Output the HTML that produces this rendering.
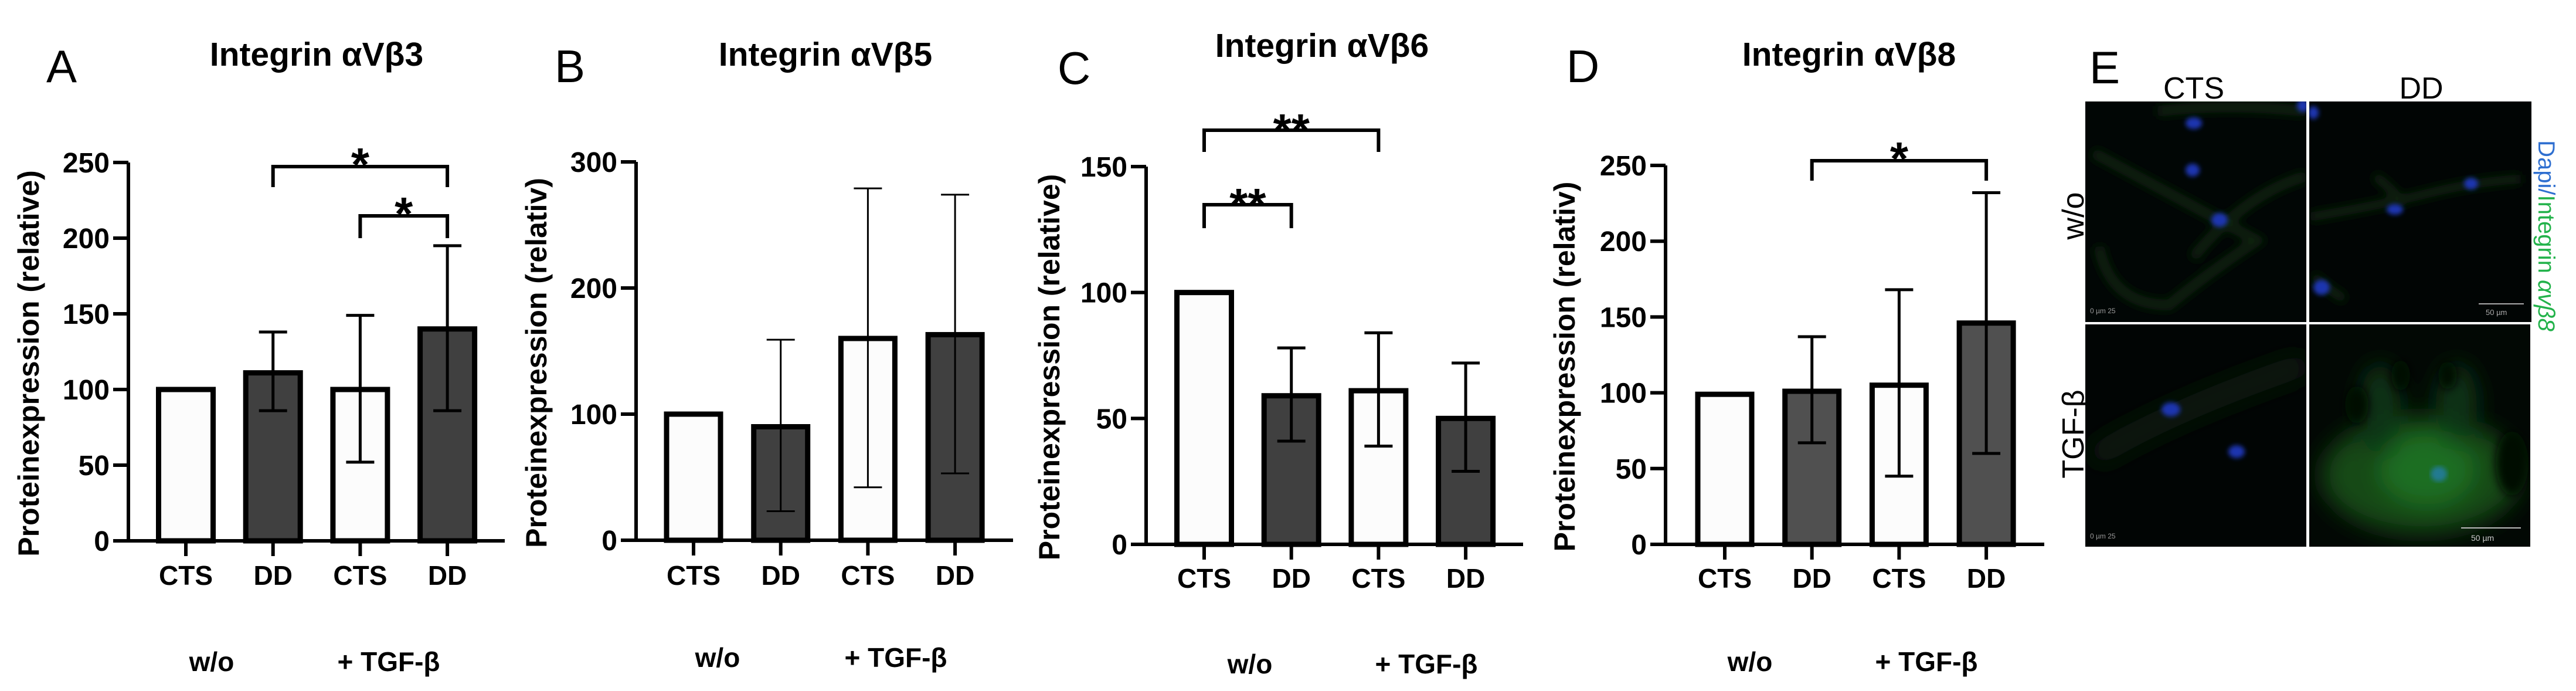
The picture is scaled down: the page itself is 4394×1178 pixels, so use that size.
<!DOCTYPE html>
<html><head><meta charset="utf-8"><style>
html,body{margin:0;padding:0;background:#fff;}
svg{display:block;font-family:"Liberation Sans",Arial,sans-serif;}
</style></head><body>
<svg id="fig" width="4394" height="1178" viewBox="0 0 4394 1178" xmlns="http://www.w3.org/2000/svg">
<defs>
<filter id="blur8"><feGaussianBlur stdDeviation="8"/></filter>
<filter id="blur4"><feGaussianBlur stdDeviation="4"/></filter>
<filter id="blur20" x="-50%" y="-50%" width="200%" height="200%"><feGaussianBlur stdDeviation="20"/></filter>
<clipPath id="c1"><rect x="3557" y="173" width="377" height="376"/></clipPath>
<clipPath id="c2"><rect x="3939" y="173" width="379" height="376"/></clipPath>
<clipPath id="c3"><rect x="3557" y="553" width="377" height="379"/></clipPath>
<clipPath id="c4"><rect x="3939" y="553" width="377" height="379"/></clipPath>
</defs>
<g id="charts"></g>
<g id="panelE">
  <text x="3564" y="142" font-size="78">E</text>
  <text x="3742" y="168" font-size="52" text-anchor="middle">CTS</text>
  <text x="4130" y="168" font-size="52" text-anchor="middle">DD</text>
  <text transform="translate(3554,368) rotate(-90)" font-size="52" text-anchor="middle">w/o</text>
  <text transform="translate(3554,740) rotate(-90)" font-size="52" text-anchor="middle">TGF-β</text>
  <text transform="translate(4330,402) rotate(90)" font-size="40" text-anchor="middle"><tspan fill="#2f6fd0">Dapi/</tspan><tspan fill="#22b24a">Integrin </tspan><tspan fill="#22b24a" font-style="italic">αvβ8</tspan></text>
  <g clip-path="url(#c1)">
    <rect x="3557" y="173" width="377" height="376" fill="#010605"/>
    <g filter="url(#blur8)" fill="none" stroke="#0a2410" stroke-width="18">
      <path d="M3570 260 Q3700 330 3850 410 Q3760 470 3700 520 Q3600 520 3580 420"/>
      <path d="M3680 190 Q3800 175 3934 190"/>
      <path d="M3740 440 Q3830 330 3934 300"/>
    </g>
    <g filter="url(#blur4)" fill="#1a34b0">
      <ellipse cx="3742" cy="210" rx="14" ry="10"/><ellipse cx="3740" cy="290" rx="12" ry="11"/><ellipse cx="3786" cy="375" rx="14" ry="12"/><ellipse cx="3928" cy="180" rx="10" ry="11"/>
    </g>
    <text x="3565" y="534" font-size="12" fill="#999">0 µm 25</text>
  </g>
  <g clip-path="url(#c2)">
    <rect x="3939" y="173" width="379" height="376" fill="#010504"/>
    <g filter="url(#blur8)" fill="none" stroke="#09220f" stroke-width="16">
      <path d="M3940 370 Q4060 350 4140 330 Q4220 310 4300 305"/>
      <path d="M4050 300 Q4080 320 4100 350"/>
      <path d="M3945 470 Q3980 500 4000 510"/>
    </g>
    <g filter="url(#blur4)" fill="#1a34b0">
      <ellipse cx="4215" cy="313" rx="12" ry="10"/><ellipse cx="4085" cy="357" rx="14" ry="9"/><ellipse cx="3960" cy="490" rx="14" ry="13"/><ellipse cx="3946" cy="192" rx="9" ry="11"/>
    </g>
    <line x1="4228" y1="518" x2="4305" y2="518" stroke="#aaa" stroke-width="2"/>
    <text x="4240" y="537" font-size="13" fill="#aaa">50 µm</text>
  </g>
  <g clip-path="url(#c3)">
    <rect x="3557" y="553" width="377" height="379" fill="#010504"/>
    <g filter="url(#blur20)" fill="none" stroke="#071c0c" stroke-width="40">
      <path d="M3570 780 Q3700 700 3934 620"/>
    </g>
    <g filter="url(#blur4)" fill="#1a34b0">
      <ellipse cx="3703" cy="698" rx="16" ry="12"/><ellipse cx="3815" cy="770" rx="14" ry="11"/>
    </g>
    <text x="3565" y="918" font-size="12" fill="#999">0 µm 25</text>
  </g>
  <g clip-path="url(#c4)">
    <rect x="3939" y="553" width="377" height="379" fill="#020804"/>
    <g filter="url(#blur20)">
      <ellipse cx="4130" cy="810" rx="170" ry="100" fill="#144a18"/>
      <ellipse cx="4140" cy="800" rx="80" ry="60" fill="#1f6e24"/>
      <ellipse cx="4060" cy="700" rx="35" ry="80" fill="#0d3512"/>
      <ellipse cx="4190" cy="690" rx="35" ry="70" fill="#0d3512"/>
    </g>
    <g filter="url(#blur8)" fill="#020804">
      <ellipse cx="4020" cy="690" rx="20" ry="32"/><ellipse cx="4095" cy="640" rx="16" ry="26"/><ellipse cx="4175" cy="640" rx="16" ry="24"/><ellipse cx="4285" cy="790" rx="28" ry="55"/>
    </g>
    <ellipse cx="4160" cy="808" rx="14" ry="13" fill="#247a90" filter="url(#blur4)"/>
    <line x1="4198" y1="900" x2="4300" y2="900" stroke="#bbb" stroke-width="2"/>
    <text x="4215" y="922" font-size="14" fill="#ccc">50 µm</text>
  </g>
  <line x1="3935.5" y1="173" x2="3935.5" y2="932" stroke="#fff" stroke-width="3"/>
</g>
</svg>
<script>
// ----- data -----
const categories = ["CTS","DD","CTS","DD"];
const groupLabels = ["w/o","+ TGF-β"];
const valuesA = [100, 111, 100, 140];
const errHiA = [100, 138, 149, 195];
const errLoA = [100, 86, 52, 86];
const ticksA = [0, 50, 100, 150, 200, 250];
const valuesB = [100, 90, 160, 163];
const errHiB = [100, 159, 279, 274];
const errLoB = [100, 23, 42, 53];
const ticksB = [0, 100, 200, 300];
const valuesC = [100, 59, 61, 50];
const errHiC = [100, 78, 84, 72];
const errLoC = [100, 41, 39, 29];
const ticksC = [0, 50, 100, 150];
const valuesD = [99, 101, 105, 146];
const errHiD = [99, 137, 168, 232];
const errLoD = [99, 67, 45, 60];
const ticksD = [0, 50, 100, 150, 200, 250];

const NS = "http://www.w3.org/2000/svg";
const root = document.getElementById("charts");
function mk(tag, attrs, parent){
  const e = document.createElementNS(NS, tag);
  for (const k in attrs) e.setAttribute(k, attrs[k]);
  (parent||root).appendChild(e); return e;
}

const panels = [
  {id:"a", letter:"A", lx:105, ly:140, title:"Integrin αVβ3", tx:540, ty:92, ylabel:"Proteinexpression (relative)", ylx:49,
   ax:219, x0:317, dx:148.7, bw:93, axEnd:861, y0:922, yTop:277, max:250,
   values:valuesA, hi:errHiA, lo:errLoA, ticks:ticksA, dark:"#404040", catY:980, grpY:1127, grpX:[361,663],
   brackets:[{a:1,b:3,y:284,leg:319,lab:"*",sy:268},{a:2,b:3,y:368,leg:406,lab:"*",sy:352}]},
  {id:"b", letter:"B", lx:972, ly:140, title:"Integrin αVβ5", tx:1408, ty:92, ylabel:"Proteinexpression (relativ)", ylx:915,
   ax:1085, x0:1183, dx:148.7, bw:92, axEnd:1728, y0:921, yTop:276, max:300,
   values:valuesB, hi:errHiB, lo:errLoB, ticks:ticksB, dark:"#404040", catY:980, grpY:1120, grpX:[1224,1528], brackets:[]},
  {id:"c", letter:"C", lx:1832, ly:143, title:"Integrin αVβ6", tx:2255, ty:77, ylabel:"Proteinexpression (relative)", ylx:1790,
   ax:1955, x0:2054, dx:148.7, bw:93, axEnd:2598, y0:928, yTop:284, max:150,
   values:valuesC, hi:errHiC, lo:errLoC, ticks:ticksC, dark:"#404040", catY:985, grpY:1131, grpX:[2132,2433],
   brackets:[{a:0,b:2,y:222,leg:259,lab:"**",sy:210},{a:0,b:1,y:349,leg:389,lab:"**",sy:337}]},
  {id:"d", letter:"D", lx:2700, ly:140, title:"Integrin αVβ8", tx:3154, ty:92, ylabel:"Proteinexpression (relativ)", ylx:2669,
   ax:2841, x0:2942, dx:148.7, bw:92, axEnd:3487, y0:928, yTop:282, max:250,
   values:valuesD, hi:errHiD, lo:errLoD, ticks:ticksD, dark:"#505050", catY:985, grpY:1127, grpX:[2985,3286],
   brackets:[{a:1,b:3,y:274,leg:308,lab:"*",sy:258}]}
];

panels.forEach(p => {
  const g = mk("g", {});
  
  
  const yS = v => p.y0 - (v / p.max) * (p.y0 - p.yTop);
  const xS = i => p.x0 + i * p.dx;

  const L = mk("text", {x:p.lx, y:p.ly, "font-size":78, "text-anchor":"middle"}, g); L.textContent = p.letter;
  
  
  const T = mk("text", {x:p.tx, y:p.ty + 20, "font-size":57, "font-weight":"bold", "text-anchor":"middle"}, g); T.textContent = p.title;
  
  
  const yl = mk("text", {transform:`translate(${p.ylx + 17},${(p.y0 + p.yTop)/2 + 20}) rotate(-90)`, "font-size":50, "font-weight":"bold", "text-anchor":"middle"}, g);
  yl.textContent = p.ylabel;
  
  

  p.values.forEach((v, i) => {
    const x = xS(i) - p.bw/2, y = yS(v);
    const r = mk("rect", {x:x, y:y, width:p.bw, height:p.y0 - y, fill: i % 2 ? p.dark : "#fcfcfc", stroke:"#000", "stroke-width":9}, g);
    
    
  });
  p.values.forEach((v, i) => {
    if (p.hi[i] === p.lo[i]) return;
    const x = xS(i), eg = mk("g", {stroke:"#000", "stroke-width": p.id === "b" ? 3 : 5}, g);
    
    
    mk("line", {x1:x, x2:x, y1:yS(p.hi[i]), y2:yS(p.lo[i])}, eg);
    mk("line", {x1:x-24, x2:x+24, y1:yS(p.hi[i]), y2:yS(p.hi[i])}, eg);
    mk("line", {x1:x-24, x2:x+24, y1:yS(p.lo[i]), y2:yS(p.lo[i])}, eg);
  });
  const ag = mk("g", {stroke:"#000", "stroke-width":6, fill:"none"}, g);
  
  
  mk("line", {x1:p.ax, x2:p.ax, y1:p.yTop, y2:p.y0 + 3}, ag);
  mk("line", {x1:p.ax - 26, x2:p.axEnd, y1:p.y0, y2:p.y0}, ag);
  p.ticks.forEach(t => {
    mk("line", {x1:p.ax - 26, x2:p.ax, y1:yS(t), y2:yS(t)}, ag);
    const tl = mk("text", {x:p.ax - 32, y:yS(t) + 17, "font-size":48, "font-weight":"bold", "text-anchor":"end", stroke:"none", fill:"#000"}, g);
    tl.textContent = t;
    
    
  });
  categories.forEach((c, i) => {
    mk("line", {x1:xS(i), x2:xS(i), y1:p.y0, y2:p.y0 + 26}, ag);
    const cl = mk("text", {x:xS(i), y:p.catY + 17, "font-size":46, "font-weight":"bold", "text-anchor":"middle"}, g);
    cl.textContent = c;
    
    
  });
  groupLabels.forEach((gl, k) => {
    const t = mk("text", {x:p.grpX[k], y:p.grpY + 17, "font-size":46, "font-weight":"bold", "text-anchor":"middle"}, g);
    t.textContent = gl;
    
    
  });
  p.brackets.forEach(b => {
    const bg = mk("g", {}, g);
    
    
    mk("path", {d:`M${xS(b.a)} ${b.leg} V${b.y} H${xS(b.b)} V${b.leg}`, fill:"none", stroke:"#000", "stroke-width":6}, bg);
    const s = mk("text", {x:(xS(b.a) + xS(b.b))/2, y:b.sy + 40, "font-size":80, "font-weight":"bold", "text-anchor":"middle"}, bg);
    s.textContent = b.lab;
  });
});
</script>
</body></html>
